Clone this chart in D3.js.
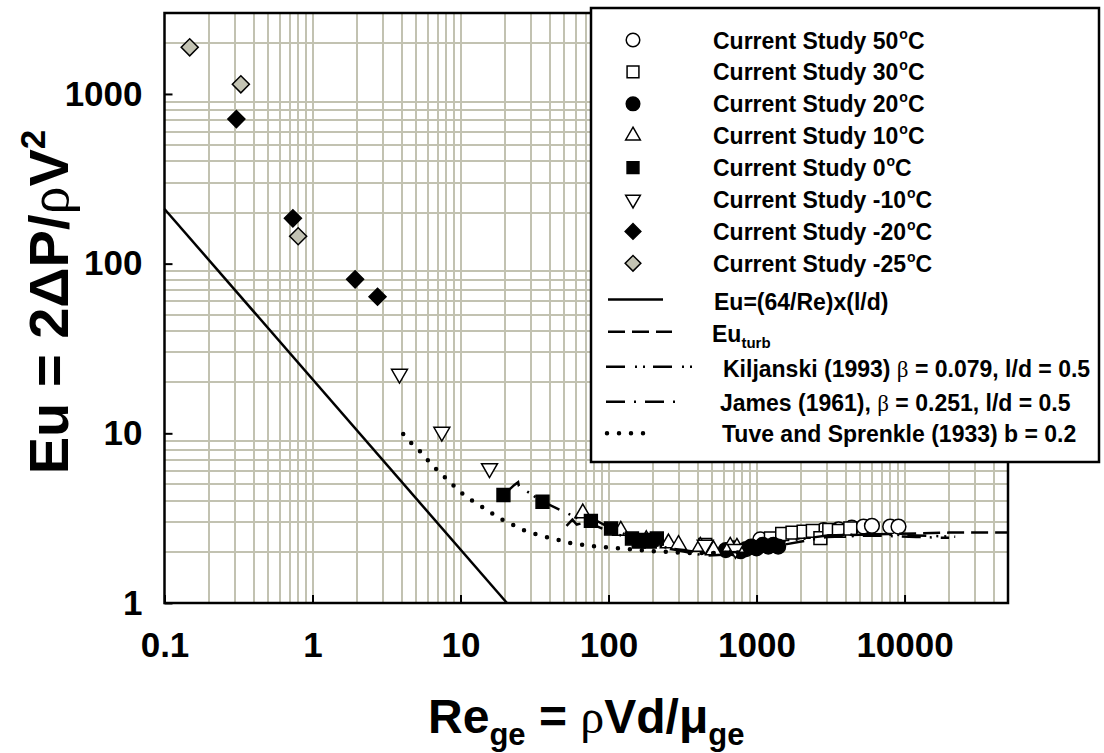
<!DOCTYPE html>
<html>
<head>
<meta charset="utf-8">
<script src="https://cdn.jsdelivr.net/npm/d3@7"></script>
<style>
  body { margin: 0; background: #fff; }
  svg text { font-family: "Liberation Sans", Arial, sans-serif; font-weight: bold; fill: #000; }
</style>
</head>
<body>
<div id="chart"></div>
<script>
// ---- data ----
const re50 = [1060, 2840, 3580, 4400, 5280, 6020, 8000, 9100];
const eu50 = [2.37, 2.69, 2.72, 2.78, 2.82, 2.85, 2.82, 2.82];

const re30 = [450, 1250, 1490, 1750, 2080, 2400, 2700, 3100, 3600, 4300];
const eu30 = [2.2, 2.4, 2.55, 2.6, 2.63, 2.66, 2.41, 2.7, 2.66, 2.75];

const re20 = [620, 700, 780, 850, 920, 1000, 1100, 1200, 1300, 1400];
const eu20 = [2.05, 2.1, 2.02, 2.08, 2.15, 2.1, 2.2, 2.15, 2.2, 2.15];

const re10 = [67, 121, 180, 254, 297, 417, 512, 664, 737];
const eu10 = [3.38, 2.67, 2.35, 2.25, 2.2, 2.15, 2.05, 2.15, 2.12];

const re0 = [19.5, 35.8, 76, 104, 144, 160, 172, 190, 212];
const eu0 = [4.33, 3.95, 3.05, 2.75, 2.4, 2.3, 2.35, 2.3, 2.4];

const reM10 = [3.87, 7.48, 15.7, 450, 720];
const euM10 = [22.4, 10.2, 6.22, 2.2, 2.08];

const reM20 = [0.306, 0.737, 1.94, 2.75];
const euM20 = [711, 185, 80.8, 63.8];

const reM25 = [0.148, 0.328, 0.80];
const euM25 = [1883, 1140, 145];

// curves
const reLam = [0.1, 20.6];
const euLam = [210, 1];

const reTurb = [3000, 8000, 20000, 50000];
const euTurb = [2.5, 2.55, 2.6, 2.6];

const reKil = [20.5, 23, 24.5, 24.8, 35, 60, 100, 160, 260, 450, 800, 1500, 3000, 6000, 12000, 22000];
const euKil = [4.5, 4.95, 5.15, 4.9, 4.0, 3.2, 2.65, 2.3, 2.1, 1.97, 2.0, 2.3, 2.5, 2.55, 2.5, 2.46];

const reJam = [52, 57, 61, 66, 75, 100, 150, 250, 450, 800, 1500, 3000, 6000, 12000, 20000];
const euJam = [2.85, 3.1, 2.9, 2.95, 3.2, 2.8, 2.4, 2.1, 1.9, 1.95, 2.2, 2.45, 2.5, 2.45, 2.42];

const reTuve = [4.1, 4.7, 5.5, 6.3, 7.3, 8.6, 9.9, 11.6, 13.7, 16.3, 19, 22.7, 26.5, 31, 37, 44, 52, 61, 72, 90, 120, 200, 350, 600, 1000];
const euTuve = [9.9, 8.67, 7.64, 6.6, 5.85, 5.11, 4.53, 4.08, 3.73, 3.38, 3.11, 2.88, 2.69, 2.57, 2.46, 2.38, 2.27, 2.23, 2.18, 2.14, 2.1, 2.02, 1.97, 1.97, 2.0];

// ticks
const xTickVals = [0.1, 1, 10, 100, 1000, 10000];
const xTickLabels = ["0.1", "1", "10", "100", "1000", "10000"];
const yTickVals = [1, 10, 100, 1000];
const yTickLabels = ["1", "10", "100", "1000"];

const seriesNames = ["Current Study 50", "Current Study 30", "Current Study 20", "Current Study 10",
  "Current Study 0", "Current Study -10", "Current Study -20", "Current Study -25"];

// ---- layout ----
const W = 1104, H = 753;
const plot = { left: 164.5, right: 1008, top: 13, bottom: 603 };
const gridColor = "#c2c2b1";

const svg = d3.select("#chart").append("svg")
  .attr("width", W).attr("height", H)
  .attr("viewBox", `0 0 ${W} ${H}`);

const x = d3.scaleLog().domain([0.1, 50000]).range([plot.left, plot.right]);
const y = d3.scaleLog().domain([1, 3000]).range([plot.bottom, plot.top]);

// grid (minor lines, plus vertical decades)
const gridG = svg.append("g").attr("shape-rendering", "crispEdges");
const vGrid = [], hGrid = [];
for (let k = -1; k <= 4; k++) {
  for (let m = 1; m <= 9; m++) {
    const v = m * Math.pow(10, k);
    if (v > 0.1 && v < 50000) vGrid.push(v);
  }
}
for (let k = 0; k <= 3; k++) {
  for (let m = 2; m <= 9; m++) {
    const v = m * Math.pow(10, k);
    if (v < 3000) hGrid.push(v);
  }
}
gridG.selectAll(".vg").data(vGrid).enter().append("line")
  .attr("x1", d => Math.round(x(d))).attr("x2", d => Math.round(x(d)))
  .attr("y1", plot.top).attr("y2", plot.bottom)
  .attr("stroke", gridColor).attr("stroke-width", 2);
gridG.selectAll(".hg").data(hGrid).enter().append("line")
  .attr("y1", d => Math.round(y(d))).attr("y2", d => Math.round(y(d)))
  .attr("x1", plot.left).attr("x2", plot.right)
  .attr("stroke", gridColor).attr("stroke-width", 2);

// axes
const gx = svg.append("g").attr("transform", `translate(0,${plot.bottom})`)
  .call(d3.axisBottom(x).tickValues(xTickVals).tickFormat((d, i) => xTickLabels[i])
    .tickSizeInner(-8).tickSizeOuter(0).tickPadding(29));
const gy = svg.append("g").attr("transform", `translate(${plot.left},0)`)
  .call(d3.axisLeft(y).tickValues(yTickVals).tickFormat((d, i) => yTickLabels[i])
    .tickSizeInner(-8).tickSizeOuter(0).tickPadding(22));
[gx, gy].forEach(g => {
  g.select(".domain").remove();
  g.selectAll(".tick line").attr("stroke", "#000").attr("stroke-width", 2);
  g.selectAll(".tick text").style("font-size", "35px").style("font-family", null);
});

// plot frame
svg.append("rect")
  .attr("x", plot.left).attr("y", plot.top)
  .attr("width", plot.right - plot.left).attr("height", plot.bottom - plot.top)
  .attr("fill", "none").attr("stroke", "#000").attr("stroke-width", 2.5);

// curves
const lineGen = d3.line().x(d => x(d[0])).y(d => y(d[1]));
const curves = [
  { re: reLam, eu: euLam, dash: null, w: 2.5 },
  { re: reTurb, eu: euTurb, dash: "17,7", w: 2.5 },
  { re: reKil, eu: euKil, dash: "19,10,2,6,2,8", w: 2.5 },
  { re: reJam, eu: euJam, dash: "19,9,2,9", w: 2.5 },
  { re: reTuve, eu: euTuve, dash: "0,12", w: 4.5, cap: "round" }
];

// markers
const series = [
  { re: re50, eu: eu50, type: d3.symbolCircle, size: 170, fill: "#fff" },
  { re: re30, eu: eu30, type: d3.symbolSquare, size: 165, fill: "#fff" },
  { re: re20, eu: eu20, type: d3.symbolCircle, size: 170, fill: "#000" },
  { re: re10, eu: eu10, type: d3.symbolTriangle, size: 110, fill: "#fff" },
  { re: re0, eu: eu0, type: d3.symbolSquare, size: 165, fill: "#000" },
  { re: reM10, eu: euM10, type: d3.symbolTriangle, size: 110, fill: "#fff", rot: 180 },
  { re: reM20, eu: euM20, type: d3.symbolSquare, size: 145, fill: "#000", rot: 45 },
  { re: reM25, eu: euM25, type: d3.symbolSquare, size: 145, fill: "#c3c3b3", rot: 45 }
];

const marksG = svg.append("g");
series.forEach(s => {
  const pts = d3.zip(s.re, s.eu);
  marksG.selectAll(null).data(pts).enter().append("path")
    .attr("d", d3.symbol().type(s.type).size(s.size))
    .attr("transform", d => `translate(${x(d[0])},${y(d[1])}) rotate(${s.rot || 0})`)
    .attr("fill", s.fill).attr("stroke", "#000").attr("stroke-width", 1.5);
});

const curvesG = svg.append("g");
curves.forEach(c => {
  curvesG.append("path")
    .datum(d3.zip(c.re, c.eu))
    .attr("d", lineGen)
    .attr("fill", "none").attr("stroke", "#000")
    .attr("stroke-width", c.w)
    .attr("stroke-dasharray", c.dash)
    .attr("stroke-linecap", c.cap || "butt");
});

// legend
const leg = svg.append("g");
leg.append("rect")
  .attr("x", 591).attr("y", 8).attr("width", 508).attr("height", 454)
  .attr("fill", "#fff").attr("stroke", "#000").attr("stroke-width", 2.5);

series.forEach((s, i) => {
  const cy = 40 + i * 31.9;
  leg.append("path")
    .attr("d", d3.symbol().type(s.type).size(s.size * 0.85))
    .attr("transform", `translate(633,${cy}) rotate(${s.rot || 0})`)
    .attr("fill", s.fill).attr("stroke", "#000").attr("stroke-width", 1.5);
  const t = leg.append("text").attr("x", 713).attr("y", cy + 8.5).style("font-size", "23px");
  t.append("tspan").text(seriesNames[i]);
  t.append("tspan").text("o").style("font-size", "14px").attr("dy", -10).attr("dx", 1);
  t.append("tspan").text("C").attr("dy", 10);
});

const lineLegend = [
  { y: 299.5, x1: 608, x2: 663 },
  { y: 331.7, x1: 608, x2: 672 },
  { y: 366.7, x1: 606, x2: 694 },
  { y: 401.7, x1: 606, x2: 676 },
  { y: 433.3, x1: 607, x2: 652 }
];
lineLegend.forEach((l, i) => {
  const c = curves[i];
  leg.append("line")
    .attr("x1", l.x1).attr("x2", l.x2).attr("y1", l.y).attr("y2", l.y)
    .attr("stroke", "#000").attr("stroke-width", c.w)
    .attr("stroke-dasharray", c.dash)
    .attr("stroke-linecap", c.cap || "butt");
});

const greekStyle = t => t.style("font-family", "'Liberation Serif', serif").style("font-weight", "normal");

let t = leg.append("text").attr("x", 714).attr("y", 310).style("font-size", "23px").text("Eu=(64/Re)x(l/d)");

t = leg.append("text").attr("x", 712).attr("y", 341.5).style("font-size", "23px");
t.append("tspan").text("Eu");
t.append("tspan").text("turb").style("font-size", "15px").attr("dy", 6);

t = leg.append("text").attr("x", 723).attr("y", 377).style("font-size", "23px");
t.append("tspan").text("Kiljanski (1993) ");
t.append("tspan").text("β").call(greekStyle);
t.append("tspan").text(" = 0.079, l/d = 0.5");

t = leg.append("text").attr("x", 720).attr("y", 411).style("font-size", "23px");
t.append("tspan").text("James (1961), ");
t.append("tspan").text("β").call(greekStyle);
t.append("tspan").text(" = 0.251, l/d = 0.5");

leg.append("text").attr("x", 722).attr("y", 441.5).style("font-size", "23px")
  .text("Tuve and Sprenkle (1933) b = 0.2");

// axis titles
const xt = svg.append("text")
  .attr("x", (plot.left + plot.right) / 2).attr("y", 733)
  .attr("text-anchor", "middle").style("font-size", "48px");
xt.append("tspan").text("Re");
xt.append("tspan").text("ge").style("font-size", "31px").attr("dy", 12);
xt.append("tspan").text(" = ").attr("dy", -12);
xt.append("tspan").text("ρ").call(greekStyle);
xt.append("tspan").text("Vd/μ");
xt.append("tspan").text("ge").style("font-size", "31px").attr("dy", 12);

const yt = svg.append("text")
  .attr("transform", `translate(68,${(plot.top + plot.bottom) / 2 - 6}) rotate(-90)`)
  .attr("text-anchor", "middle").style("font-size", "56px");
yt.append("tspan").text("Eu = 2ΔP/");
yt.append("tspan").text("ρ").call(greekStyle);
yt.append("tspan").text("V");
yt.append("tspan").text("2").style("font-size", "35px").attr("dy", -23);
</script>
</body>
</html>
